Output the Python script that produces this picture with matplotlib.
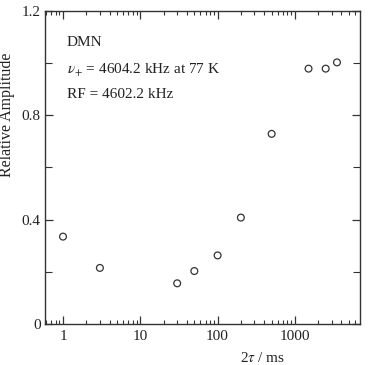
import matplotlib
matplotlib.use("Agg")
import matplotlib.pyplot as plt
from matplotlib.ticker import FixedLocator, FixedFormatter, LogLocator, NullFormatter, MultipleLocator

plt.rcParams['font.family'] = ['Liberation Serif', 'DejaVu Serif']
plt.rcParams['mathtext.fontset'] = 'stix'

tau2_ms = [1, 3, 30, 50, 100, 200, 500, 1500, 2500, 3500]
rel_amp = [0.335, 0.215, 0.156, 0.203, 0.263, 0.408, 0.729, 0.979, 0.979, 1.003]

x_ticks = [1, 10, 100, 1000]
x_ticklabels = ["1", "10", "100", "1000"]
y_ticks = [0, 0.4, 0.8, 1.2]
y_ticklabels = ["0", "0.4", "0.8", "1.2"]

W, H = 368, 365
fig = plt.figure(figsize=(W/100, H/100), dpi=100)
ax = fig.add_axes([45/W, 1 - 324/H, (360-45)/W, (324-11)/H])

ax.scatter(tau2_ms, rel_amp, s=24, facecolors='none', edgecolors='#333333', linewidths=0.9, zorder=3)

ax.set_xscale('log')
ax.set_xlim(0.585, 6950)
ax.set_ylim(0, 1.2)

ax.xaxis.set_major_locator(FixedLocator(x_ticks))
ax.xaxis.set_major_formatter(FixedFormatter(x_ticklabels))
ax.xaxis.set_minor_locator(LogLocator(base=10, subs=range(2, 10), numticks=20))
ax.xaxis.set_minor_formatter(NullFormatter())
ax.yaxis.set_major_locator(FixedLocator(y_ticks))
ax.yaxis.set_major_formatter(FixedFormatter(y_ticklabels))
ax.yaxis.set_minor_locator(MultipleLocator(0.2))

ax.tick_params(which='both', direction='in', top=True, right=True, labelsize=11, colors='#333333', labelcolor='#222222')
ax.tick_params(which='major', length=6, width=0.9, pad=3)
ax.tick_params(axis='x', which='major', pad=4)
ax.tick_params(which='minor', length=3, width=0.8)
ax.tick_params(axis='y', which='minor', length=5)
for s in ax.spines.values():
    s.set_linewidth(1.0)
    s.set_color('#333333')

fig.text(7/W, 1 - 114.5/H, "Relative Amplitude", rotation=90, ha='center', va='center', fontsize=11.5, color='#222222')
fig.text(262/W, 1 - 358/H, r"2$\tau$ / ms", ha='center', va='center', fontsize=11, color='#222222')

fig.text(67/W, 1 - 42/H, "DMN", fontsize=11, color='#222222', va='center')
fig.text(67/W, 1 - 70/H, r"$\nu_{+}$ = 4604.2 kHz at 77 K", fontsize=11, color='#222222', va='center')
fig.text(67/W, 1 - 95/H, "RF = 4602.2 kHz", fontsize=11, color='#222222', va='center')

fig.savefig("out.png", dpi=100)
